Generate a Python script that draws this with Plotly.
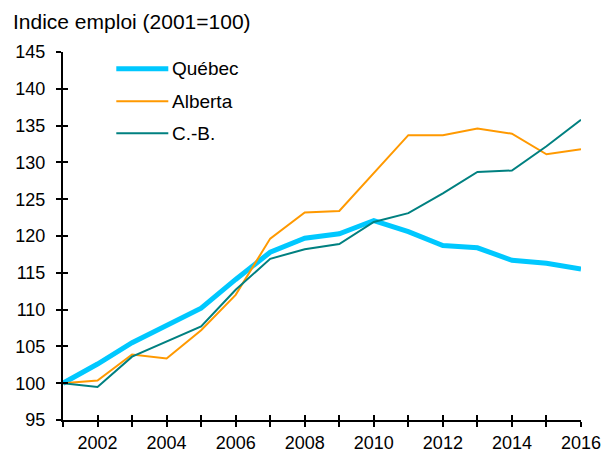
import plotly.graph_objects as go

years = list(range(2001, 2017))
quebec = [100, 102.6, 105.5, 107.9, 110.2, 114.1, 117.8, 119.7, 120.3, 122.1,
          120.6, 118.7, 118.4, 116.7, 116.3, 115.5]
alberta = [100, 100.35, 103.9, 103.35, 107.2, 112.0, 119.65, 123.2, 123.4, 128.6,
           133.7, 133.7, 134.6, 133.9, 131.1, 131.8]
cb = [100, 99.5, 103.6, 105.6, 107.7, 112.7, 116.9, 118.2, 118.9, 121.9,
      123.1, 125.8, 128.7, 128.9, 132.2, 135.8]
series_names = ["Québec", "Alberta", "C.-B."]
series_colors = ["#00C8FF", "#FF9900", "#008080"]
series_widths = [5, 2, 2]
y_ticks = [95, 100, 105, 110, 115, 120, 125, 130, 135, 140, 145]
x_labels = [str(y) if y % 2 == 0 else "" for y in years]
title_text = "Indice emploi (2001=100)"

FONT = "Liberation Sans, Arial, sans-serif"

fig = go.Figure()
for name, vals, col, w in zip(series_names, [quebec, alberta, cb], series_colors, series_widths):
    fig.add_trace(go.Scatter(x=years, y=vals, mode="lines", name=name,
                             line=dict(color=col, width=w), showlegend=False))

# invisible trace on overlay axes (for crossing tick marks)
fig.add_trace(go.Scatter(x=years, y=quebec, mode="none", xaxis="x2", yaxis="y2",
                         showlegend=False, hoverinfo="skip"))

OFF = 8  # default body margin of the page
W, H = 612 - OFF, 449
L, R, T, B = 62.7 - OFF, 31.3, 52.3 - OFF, 29 + OFF
pw = W - L - R
ph = H - T - B

axis_common = dict(showgrid=False, zeroline=False, showline=True, linecolor="black",
                   linewidth=2, tickcolor="black", tickwidth=1.5, ticklen=5,
                   automargin=False,
                   tickfont=dict(family=FONT, size=18, color="black"))

fig.update_layout(
    width=W, height=H,
    margin=dict(l=L, r=R, t=T, b=B, autoexpand=False),
    paper_bgcolor="white", plot_bgcolor="white",
    xaxis=dict(range=[2001, 2016], tickmode="array", tickvals=years, ticktext=x_labels,
               ticks="outside", ticklabelstandoff=0, **axis_common),
    yaxis=dict(range=[95, 145], tickmode="array", tickvals=y_ticks,
               ticks="outside", ticklabelstandoff=7, **axis_common),
    xaxis2=dict(range=[2001, 2016], overlaying="x", tickmode="array", tickvals=years,
                ticks="inside", showticklabels=False, showgrid=False, zeroline=False,
                showline=False, tickcolor="black", tickwidth=1.5, ticklen=5),
    yaxis2=dict(range=[95, 145], overlaying="y", tickmode="array", tickvals=y_ticks,
                ticks="inside", showticklabels=False, showgrid=False, zeroline=False,
                showline=False, tickcolor="black", tickwidth=1.5, ticklen=5),
    showlegend=False,
)

# helpers: page pixel -> paper coordinates
def px_x(p):
    return (p - OFF - L) / pw

def px_y(p):
    return (H - B - (p - OFF)) / ph

fig.add_annotation(text=title_text, xref="paper", yref="paper", x=px_x(10.5), y=px_y(21.5),
                   xanchor="left", yanchor="middle", showarrow=False,
                   font=dict(family=FONT, size=21, color="black"))

legend_y = [69, 101.5, 133.5]
for name, col, w, ly in zip(series_names, series_colors, series_widths, legend_y):
    fig.add_shape(type="line", xref="paper", yref="paper",
                  x0=px_x(116), x1=px_x(168), y0=px_y(ly), y1=px_y(ly),
                  line=dict(color=col, width=w))
    fig.add_annotation(text=name, xref="paper", yref="paper", x=px_x(170), y=px_y(ly),
                       xanchor="left", yanchor="middle", showarrow=False,
                       font=dict(family=FONT, size=19, color="black"))

fig.write_html("out.html")
